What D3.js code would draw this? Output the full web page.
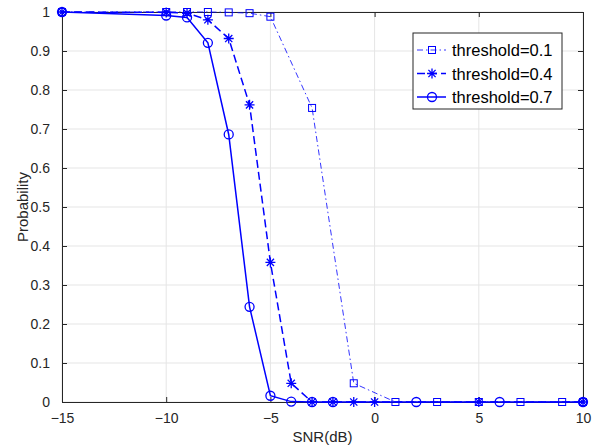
<!DOCTYPE html>
<html>
<head>
<meta charset="utf-8">
<script src="https://cdn.jsdelivr.net/npm/d3@7"></script>
<style>
  body { margin: 0; background: #fff; }
  svg text { font-family: "Liberation Sans", Arial, Helvetica, sans-serif; fill: #262626; }
</style>
</head>
<body>
<svg id="chart" width="599" height="448"></svg>
<script>

// data
var snr01 = [-15, -10, -9, -8, -7, -6, -5, -3, -1, 1, 3, 5, 7, 9, 10];
var prob01 = [1, 1, 1, 1, 0.999, 0.997, 0.988, 0.754, 0.048, 0, 0, 0, 0, 0, 0];

var snr04 = [-15, -10, -9, -8, -7, -6, -5, -4, -3, -2, -1, 0, 5, 10];
var prob04 = [1, 0.999, 0.997, 0.98, 0.932, 0.762, 0.358, 0.048, 0, 0, 0, 0, 0, 0];

var snr07 = [-15, -10, -9, -8, -7, -6, -5, -4, -3, -2, 2, 6, 10];
var prob07 = [1, 0.991, 0.986, 0.921, 0.686, 0.244, 0.016, 0.001, 0, 0, 0, 0, 0];

var xTicks = [-15, -10, -5, 0, 5, 10];
var yTicks = [0, 0.1, 0.2, 0.3, 0.4, 0.5, 0.6, 0.7, 0.8, 0.9, 1];

var series = [
  { name: "threshold=0.1", x: snr01, y: prob01, marker: "square", dash: "6,3,1.5,3", width: 0.8 },
  { name: "threshold=0.4", x: snr04, y: prob04, marker: "star", dash: "8,4", width: 1.5 },
  { name: "threshold=0.7", x: snr07, y: prob07, marker: "circle", dash: null, width: 1.5 }
];

var margin = { left: 62, right: 16, top: 12, bottom: 46 };
var width = 599, height = 448;
var blue = "#0000ff";
var axisColor = "#262626";

var svg = d3.select("#chart");

var x = d3.scaleLinear().domain([-15, 10]).range([margin.left, width - margin.right]);
var y = d3.scaleLinear().domain([0, 1]).range([height - margin.bottom, margin.top]);

// grid
var grid = svg.append("g");
grid.selectAll("line.gx")
  .data(xTicks)
  .enter()
  .append("line")
  .attr("x1", function(d) { return x(d); })
  .attr("x2", function(d) { return x(d); })
  .attr("y1", y(0))
  .attr("y2", y(1))
  .style("stroke", "#e5e5e5");
grid.selectAll("line.gy")
  .data(yTicks)
  .enter()
  .append("line")
  .attr("x1", x(-15))
  .attr("x2", x(10))
  .attr("y1", function(d) { return y(d); })
  .attr("y2", function(d) { return y(d); })
  .style("stroke", "#e5e5e5");

// axes, ticks pointing inward like matlab
function fmt(d) { return d3.format("~g")(d); }

svg.append("g")
  .attr("transform", "translate(0," + y(0) + ")")
  .call(d3.axisBottom(x).tickValues(xTicks).tickSizeInner(-5).tickSizeOuter(0).tickPadding(11).tickFormat(fmt));
svg.append("g")
  .attr("transform", "translate(0," + y(1) + ")")
  .call(d3.axisTop(x).tickValues(xTicks).tickSizeInner(-5).tickSizeOuter(0).tickFormat(""));
svg.append("g")
  .attr("transform", "translate(" + x(-15) + ",0)")
  .call(d3.axisLeft(y).tickValues(yTicks).tickSizeInner(-5).tickSizeOuter(0).tickPadding(12).tickFormat(fmt));
svg.append("g")
  .attr("transform", "translate(" + x(10) + ",0)")
  .call(d3.axisRight(y).tickValues(yTicks).tickSizeInner(-5).tickSizeOuter(0).tickFormat(""));

svg.selectAll(".domain, .tick line").style("stroke", axisColor);
svg.selectAll(".tick text").style("font-size", "14px").style("fill", axisColor);

svg.append("text")
  .attr("x", (x(-15) + x(10)) / 2)
  .attr("y", 442)
  .attr("text-anchor", "middle")
  .style("font-size", "15px")
  .text("SNR(dB)");

svg.append("text")
  .attr("transform", "translate(28," + (y(0) + y(1)) / 2 + ") rotate(-90)")
  .attr("text-anchor", "middle")
  .style("font-size", "15px")
  .text("Probability");

// markers
function drawMarker(g, type, cx, cy) {
  if (type === "square") {
    g.append("rect")
      .attr("x", cx - 3.5).attr("y", cy - 3.5)
      .attr("width", 7).attr("height", 7)
      .style("fill", "none").style("stroke", blue).style("stroke-width", 1);
  } else if (type === "circle") {
    g.append("circle")
      .attr("cx", cx).attr("cy", cy).attr("r", 4.5)
      .style("fill", "none").style("stroke", blue).style("stroke-width", 1.3);
  } else {
    var r = 5, d = 3.6;
    var p = "M" + (cx - r) + "," + cy + "L" + (cx + r) + "," + cy +
            "M" + cx + "," + (cy - r) + "L" + cx + "," + (cy + r) +
            "M" + (cx - d) + "," + (cy - d) + "L" + (cx + d) + "," + (cy + d) +
            "M" + (cx - d) + "," + (cy + d) + "L" + (cx + d) + "," + (cy - d);
    g.append("path").attr("d", p)
      .style("fill", "none").style("stroke", blue).style("stroke-width", 1.3);
  }
}

var line = d3.line()
  .x(function(d) { return x(d[0]); })
  .y(function(d) { return y(d[1]); });

series.forEach(function(s) {
  var pts = d3.zip(s.x, s.y);
  var g = svg.append("g");
  g.append("path")
    .attr("d", line(pts))
    .style("fill", "none")
    .style("stroke", blue)
    .style("stroke-width", s.width)
    .style("stroke-dasharray", s.dash);
  pts.forEach(function(p) { drawMarker(g, s.marker, x(p[0]), y(p[1])); });
});

// legend
var leg = svg.append("g").attr("transform", "translate(413,33)");
leg.append("rect")
  .attr("width", 149).attr("height", 76)
  .style("fill", "#fff").style("stroke", axisColor).style("stroke-width", 1);

series.forEach(function(s, i) {
  var cy = 17 + i * 23.5;
  var row = leg.append("g");
  row.append("line")
    .attr("x1", 4).attr("x2", 33).attr("y1", cy).attr("y2", cy)
    .style("stroke", blue)
    .style("stroke-width", s.width)
    .style("stroke-dasharray", s.dash);
  drawMarker(row, s.marker, 19, cy);
  row.append("text")
    .attr("x", 39).attr("y", cy + 6)
    .style("font-size", "16.5px")
    .style("fill", "#000")
    .text(s.name);
});

</script>
</body>
</html>
